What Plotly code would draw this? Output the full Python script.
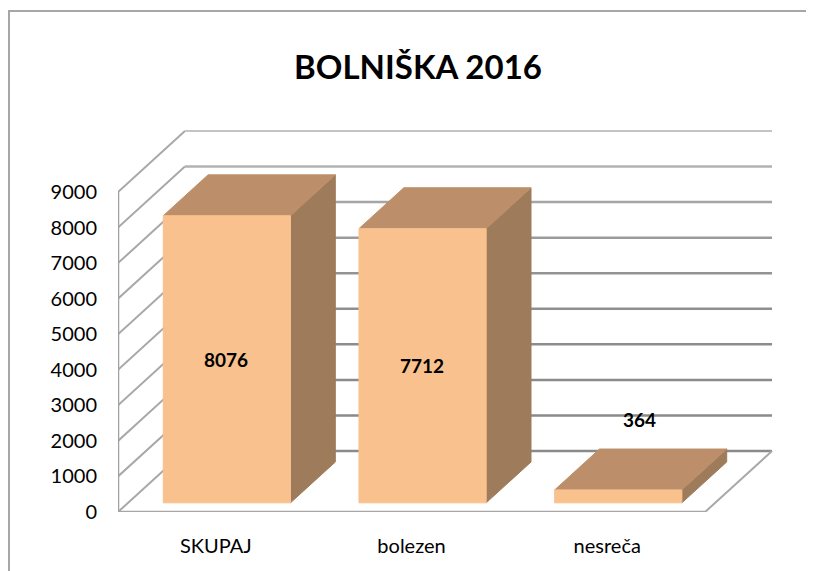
import plotly.graph_objects as go

# ---- data ----
categories = ["SKUPAJ", "bolezen", "nesreča"]
values = [8076, 7712, 364]
y_ticks = [0, 1000, 2000, 3000, 4000, 5000, 6000, 7000, 8000, 9000]
title_text = "BOLNIŠKA 2016"

# ---- oblique 3D projection settings ----
DX = 0.342      # depth offset in category units
DY = 1716       # depth offset in value units
Z0, Z1 = 0.15, 0.82   # bar depth range (fraction of floor depth)
BW0, BW1 = 0.18, 0.83  # bar span inside its category slot
n = len(categories)

FRONT = "#F9C18D"
TOP = "#BC8F6A"
SIDE = "#9E7B5A"
FONT = "Lato, 'Open Sans', sans-serif"

# page body has an 8px margin; figure is sized to fit the 814x571 window
W, H = 806, 563
PL, PR, PT, PB = 110, 767, 120, 504   # plot area in figure pixels


def proj(x, v, z):
    return x + z * DX, v + z * DY


fig = go.Figure()


def line(xs, ys, color, width):
    fig.add_trace(go.Scatter(x=xs, y=ys, mode="lines", hoverinfo="skip",
                             line=dict(color=color, width=width), showlegend=False))


def poly(pts, color):
    xs = [p[0] for p in pts] + [pts[0][0]]
    ys = [p[1] for p in pts] + [pts[0][1]]
    fig.add_trace(go.Scatter(x=xs, y=ys, mode="lines", fill="toself", fillcolor=color,
                             line=dict(color=color, width=1), hoverinfo="skip",
                             showlegend=False))


# left wall diagonals
dx_, dy_ = [], []
for v in y_ticks:
    dx_ += [0, DX, None]
    dy_ += [v, v + DY, None]
line(dx_, dy_, "#a8a8a8", 2)

# back wall gridlines (lighter towards the top)
top_v = y_ticks[-1]
for v in y_ticks:
    t = v / top_v
    g = int(0x8a + (0xc4 - 0x8a) * (t ** 3))
    line([DX, n + DX], [v + DY, v + DY], f"rgb({g},{g},{g})", 2.5 if v < top_v else 2)

# floor edges and vertical axis
line([0, n], [0, 0], "#a6a6a6", 2.5)
line([n, n + DX], [0, DY], "#a8a8a8", 2)
line([0, 0], [0, top_v], "#a0a0a0", 2.5)

# bars
annotations = []
vmax = max(values)
for i, v in enumerate(values):
    xl, xr = i + BW0, i + BW1
    poly([proj(xr, 0, Z0), proj(xr, 0, Z1), proj(xr, v, Z1), proj(xr, v, Z0)], SIDE)
    poly([proj(xl, v, Z0), proj(xr, v, Z0), proj(xr, v, Z1), proj(xl, v, Z1)], TOP)
    poly([proj(xl, 0, Z0), proj(xr, 0, Z0), proj(xr, v, Z0), proj(xl, v, Z0)], FRONT)
    if v > 0.1 * vmax:
        ax, ay = proj(i + 0.5, v / 2, Z0)
        annotations.append(dict(x=ax, y=ay, text=f"<b>{v}</b>", showarrow=False,
                                font=dict(family=FONT, size=19, color="black")))
    else:
        ax, _ = proj(i + 0.5, v, (Z0 + Z1) / 2)
        _, ay = proj(i + 0.5, v, Z1)
        annotations.append(dict(x=ax, y=ay, text=f"<b>{v}</b>", showarrow=False,
                                yanchor="bottom", yshift=16,
                                font=dict(family=FONT, size=19, color="black")))

pw, ph = PR - PL, PB - PT
# chart border (top & left visible)
shapes = [dict(type="rect", xref="paper", yref="paper",
               x0=(1 - PL) / pw, x1=(W + 20 - PL) / pw,
               y0=(PB - H - 20) / ph, y1=(PB - 3) / ph,
               line=dict(color="#a6a6a6", width=2), layer="below")]

fig.update_layout(
    width=W, height=H,
    margin=dict(l=PL, r=W - PR, t=PT, b=H - PB),
    paper_bgcolor="white", plot_bgcolor="white",
    title=dict(text=f"<b>{title_text}</b>", x=410 / W, xanchor="center",
               y=1 - 59 / H, yanchor="middle", yref="container", xref="container",
               font=dict(family=FONT, size=33, color="black")),
    xaxis=dict(range=[0, pw / 195.7], showgrid=False, zeroline=False, showline=False,
               tickvals=[i + 0.5 for i in range(n)], ticktext=categories, ticks="",
               ticklabelstandoff=20, tickfont=dict(family=FONT, size=20, color="black"),
               fixedrange=True),
    yaxis=dict(range=[0, ph / 0.035555], showgrid=False, zeroline=False, showline=False,
               tickvals=y_ticks, ticktext=[str(t) for t in y_ticks], ticks="",
               ticklabelstandoff=20, tickfont=dict(family=FONT, size=20, color="black"),
               fixedrange=True),
    annotations=annotations,
    shapes=shapes,
    showlegend=False,
)

fig.write_html("out.html")
